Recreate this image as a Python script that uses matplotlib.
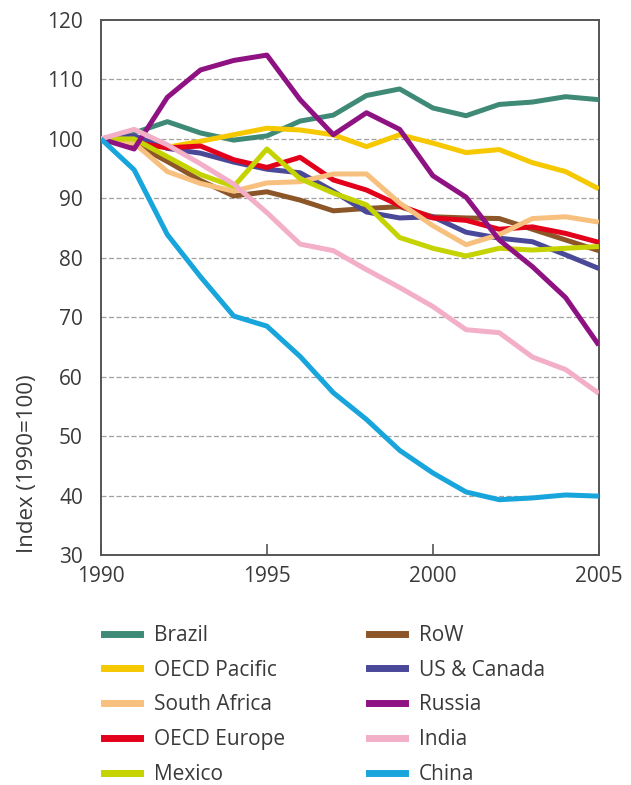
import matplotlib
matplotlib.use("Agg")
import matplotlib.pyplot as plt
from matplotlib.lines import Line2D

years = list(range(1990, 2006))

brazil       = [100, 101.0, 102.9, 101.0, 99.8, 100.5, 103.0, 104.0, 107.3, 108.4, 105.2, 103.9, 105.8, 106.2, 107.1, 106.6]
oecd_pacific = [100, 99.0, 98.6, 99.6, 100.7, 101.8, 101.5, 100.7, 98.7, 100.7, 99.3, 97.7, 98.2, 96.0, 94.5, 91.6]
south_africa = [100, 99.3, 94.5, 92.5, 91.2, 92.6, 92.8, 94.1, 94.1, 89.2, 85.4, 82.2, 83.9, 86.6, 86.9, 86.0]
oecd_europe  = [100, 99.4, 98.5, 98.8, 96.5, 95.2, 96.9, 93.1, 91.4, 88.8, 86.7, 86.3, 84.8, 85.2, 84.1, 82.6]
mexico       = [100, 100.0, 97.0, 94.0, 92.0, 98.3, 93.3, 90.9, 88.9, 83.4, 81.6, 80.3, 81.6, 81.3, 81.6, 81.9]
row          = [100, 99.2, 96.2, 93.0, 90.4, 91.1, 89.7, 87.9, 88.3, 88.6, 86.9, 86.7, 86.6, 84.8, 83.0, 81.2]
us_canada    = [100, 100.5, 98.4, 97.6, 96.1, 94.9, 94.3, 91.2, 87.7, 86.7, 86.9, 84.3, 83.3, 82.7, 80.5, 78.2]
russia       = [100, 98.3, 107.0, 111.6, 113.2, 114.1, 106.6, 100.7, 104.4, 101.6, 93.8, 90.2, 83.0, 78.5, 73.3, 65.3]
india        = [100, 101.6, 99.0, 95.8, 92.4, 87.6, 82.3, 81.2, 78.0, 75.0, 71.8, 67.9, 67.4, 63.3, 61.2, 57.2]
china        = [100, 94.8, 83.9, 76.8, 70.2, 68.5, 63.4, 57.3, 52.8, 47.6, 43.8, 40.6, 39.3, 39.6, 40.1, 39.9]

names = ["Brazil", "OECD Pacific", "South Africa", "OECD Europe", "Mexico",
         "RoW", "US & Canada", "Russia", "India", "China"]
series = [brazil, oecd_pacific, south_africa, oecd_europe, mexico,
          row, us_canada, russia, india, china]
colors = ["#3f8a76", "#f6c800", "#f8c07e", "#e2001a", "#c5d300",
          "#8c5628", "#4a4898", "#8e1282", "#f3aec8", "#17a5dc"]

y_ticks = [30, 40, 50, 60, 70, 80, 90, 100, 110, 120]
x_ticks = [1990, 1995, 2000, 2005]

plt.rcParams['font.family'] = ['Open Sans', 'DejaVu Sans']
text_color = "#3a3a3a"

fig = plt.figure(figsize=(6.31, 7.85), dpi=100)
ax = fig.add_axes([0.160, 0.293, 0.789, 0.6815])

draw_order = ["Brazil", "OECD Pacific", "RoW", "US & Canada", "OECD Europe",
              "South Africa", "Mexico", "Russia", "India", "China"]
for nm in draw_order:
    i = names.index(nm)
    ax.plot(years, series[i], color=colors[i], lw=3.6, solid_joinstyle='round',
            solid_capstyle='butt', zorder=3)

ax.set_xlim(1990, 2005)
ax.set_ylim(30, 120)
ax.set_xticks(x_ticks)
ax.set_yticks(y_ticks)
for y in y_ticks[1:-1]:
    ax.axhline(y, color="#a0a0a0", lw=0.9, ls=(0, (4, 2)), zorder=1)

for sp in ax.spines.values():
    sp.set_color("#555555")
    sp.set_linewidth(1.4)

ax.tick_params(axis='x', direction='in', length=8, width=1.2, color="#555555",
               labelsize=15, labelcolor=text_color, pad=8)
ax.tick_params(axis='y', length=0, labelsize=15, labelcolor=text_color, pad=13)

fig.text(0.044, 1 - 464 / 785, "Index (1990=100)", rotation=90, ha='center', va='center',
         fontsize=16, color=text_color)

handles = [Line2D([0], [0], color=c, lw=5) for c in colors]
fig.legend(handles, names, loc='upper left', bbox_to_anchor=(0.165, 0.204),
           ncol=2, frameon=False, fontsize=15, handlelength=1.73,
           handletextpad=0.67, columnspacing=4.0, labelspacing=0.66,
           labelcolor=text_color, borderaxespad=0, borderpad=0)

fig.savefig("out.png", dpi=100)
